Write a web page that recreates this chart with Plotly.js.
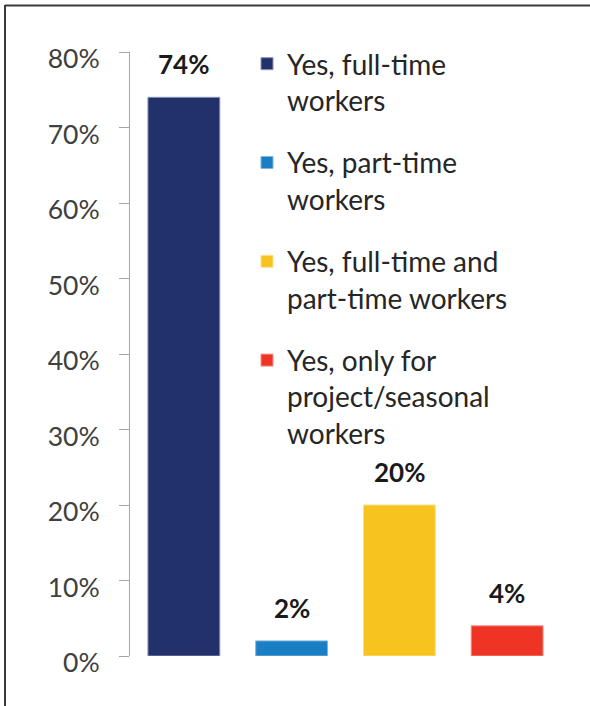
<!DOCTYPE html>
<html>
<head>
<meta charset="utf-8">
<script src="https://cdn.plot.ly/plotly-3.0.1.min.js"></script>
<style>
  html, body { margin: 0; padding: 0; background: #ffffff; }
  #chart { width: 590px; height: 706px; }
</style>
</head>
<body>
<div id="chart"></div>
<script>
// ---- data ----
const categories = [
  "Yes, full-time<br>workers",
  "Yes, part-time<br>workers",
  "Yes, full-time and<br>part-time workers",
  "Yes, only for<br>project/seasonal<br>workers"
];
const values = [74, 2, 20, 4];
const valueLabels = ["74%", "2%", "20%", "4%"];
const colors = ["#22316a", "#1a7ec4", "#f7c41f", "#ee3425"];
const borderColors = ["#8a94b8", "#7fb6de", "#fbe08a", "#f5908a"];
const yTicks = [0, 10, 20, 30, 40, 50, 60, 70, 80];

// ---- layout geometry ----
const W = 590, H = 706;
const M = { l: 130, r: 29, t: 52, b: 50 };
const pw = W - M.l - M.r, ph = H - M.t - M.b;
const px2x = (p) => (p - M.l) / pw;
const px2y = (p) => (H - M.b - p) / ph;

const traces = categories.map((name, i) => ({
  type: "bar",
  x: [i],
  y: [values[i]],
  name: name,
  legendgroup: "g" + i,
  marker: { color: colors[i], line: { color: borderColors[i], width: 1 } },
  width: 0.667,
  hoverinfo: "skip"
}));

const annotations = values.map((v, i) => ({
  x: i, y: v, xref: "x", yref: "y",
  text: valueLabels[i],
  showarrow: false,
  yanchor: "bottom",
  yshift: 15,
  font: { family: "Lato, sans-serif", size: 26, color: "#1a1a1a", weight: "bold" }
}));

const shapes = [
  { type: "line", xref: "paper", yref: "paper",
    x0: px2x(5), x1: px2x(591), y0: px2y(5.5), y1: px2y(5.5),
    line: { color: "#3a3a3a", width: 2 } },
  { type: "line", xref: "paper", yref: "paper",
    x0: px2x(5), x1: px2x(5), y0: px2y(5), y1: px2y(707),
    line: { color: "#3a3a3a", width: 2 } }
];

const layout = {
  width: W, height: H,
  margin: M,
  paper_bgcolor: "#ffffff",
  plot_bgcolor: "#ffffff",
  showlegend: true,
  barmode: "overlay",
  font: { family: "Lato, sans-serif", color: "#333333" },
  xaxis: {
    type: "linear",
    range: [-0.5, 3.5],
    showticklabels: false, showline: false, showgrid: false,
    zeroline: false, ticks: "", fixedrange: true
  },
  yaxis: {
    range: [0, 80],
    tickvals: yTicks,
    ticktext: yTicks.map(t => t + "%"),
    showline: true, linecolor: "#a6a6a6", linewidth: 1,
    ticks: "outside", ticklen: 10, tickcolor: "#a6a6a6", tickwidth: 1,
    showgrid: false, zeroline: false,
    ticklabelstandoff: 14,
    ticklabelshift: 7,
    tickfont: { family: "Lato, sans-serif", size: 26.5, color: "#404040" }
  },
  legend: {
    x: px2x(247), y: px2y(39),
    xanchor: "left", yanchor: "top",
    maxheight: 700,
    bgcolor: "rgba(0,0,0,0)",
    traceorder: "grouped",
    tracegroupgap: 23,
    valign: "top",
    font: { family: "Lato, sans-serif", size: 28, color: "#262626" }
  },
  annotations: annotations,
  shapes: shapes
};

Plotly.newPlot("chart", traces, layout, { displayModeBar: false, staticPlot: true });
</script>
</body>
</html>
